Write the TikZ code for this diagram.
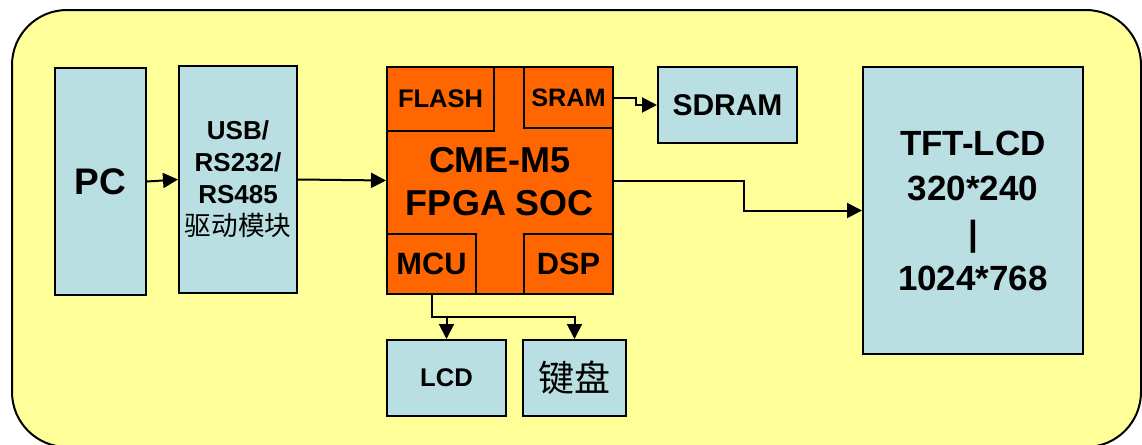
\documentclass[tikz,border=0pt]{standalone}
\usepackage{fontspec}
\setmainfont{Liberation Sans}
\newfontfamily\cjk{Noto Sans CJK SC}
\usetikzlibrary{arrows.meta}
\definecolor{paneyellow}{RGB}{255,255,153}
\definecolor{boxblue}{RGB}{185,223,227}
\definecolor{chiporange}{RGB}{255,102,0}
\begin{document}
\begin{tikzpicture}[x=0.5pt, y=-0.5pt,
    box/.style={draw, line width=1pt, fill=boxblue, inner sep=0pt, align=center, font=\bfseries},
    chip/.style={box, fill=chiporange},
    arr/.style={line width=1pt, -{Triangle[length=7.5pt,width=7.5pt]}}]
    \useasboundingbox (0,0) rectangle (1142,445);
    % Hintergrund
    \begin{scope}
        \clip (0,0) rectangle (1142,445);
        \draw[line width=1pt, fill=paneyellow, rounded corners=27.5pt] (12,10) rectangle (1141,447);
    \end{scope}

    % linke Seite
    \node[box, minimum width=45.5pt, minimum height=113.5pt, font=\bfseries\fontsize{18.5}{20}\selectfont] (pc) at (100.5,181.5) {PC};
    \node[box, minimum width=59pt, minimum height=113.5pt, font=\bfseries\fontsize{13}{16}\selectfont] (usb) at (238,179.5)
        {USB/\\RS232/\\RS485\\{\cjk\mdseries\fontsize{13.3}{16}\selectfont 驱动模块}};

    % FPGA mit Bloecken
    \node[chip, minimum width=113pt, minimum height=113.5pt] (fpga) at (500,180.5) {};
    \node[chip, minimum width=53.5pt, minimum height=32pt, font=\bfseries\fontsize{12.75}{14}\selectfont] (flash) at (440.5,99) {FLASH};
    \node[chip, minimum width=44.5pt, minimum height=30.5pt, font=\bfseries\fontsize{12.6}{14}\selectfont] (sram) at (568.5,97.5) {SRAM};
    \node[chip, minimum width=44.5pt, minimum height=30pt, font=\bfseries\fontsize{15.4}{17}\selectfont] (mcu) at (431.5,264) {MCU};
    \node[chip, minimum width=44.5pt, minimum height=30pt, font=\bfseries\fontsize{15.4}{17}\selectfont] (dsp) at (568.5,264) {DSP};
    \node[align=center, font=\bfseries\fontsize{18}{21.5}\selectfont] (soc) at (500,181.5) {CME-M5\\FPGA SOC};

    % rechte Seite
    \node[box, minimum width=69.5pt, minimum height=38pt, font=\bfseries\fontsize{15}{17}\selectfont] (sdram) at (727.5,105) {SDRAM};
    \node[box, minimum width=110pt, minimum height=143.5pt, font=\bfseries\fontsize{17.5}{22.5}\selectfont] (tft) at (973,210.5)
        {TFT-LCD\\320*240\\|\\1024*768};

    % unten
    \node[box, minimum width=59.5pt, minimum height=38pt, font=\bfseries\fontsize{12.8}{14}\selectfont] (lcd) at (446.5,378) {LCD};
    \node[box, minimum width=51.5pt, minimum height=38pt, font=\cjk\fontsize{18}{20}\selectfont] (kbd) at (574.5,378) {键盘};

    % Verbindungen
    \draw[arr] (pc.east) -- (usb.west);
    \draw[arr] (usb.east) -- (fpga.west);
    \draw[arr] (sram.east) -- ++(22,0) |- (sdram.west);
    \draw[arr] (fpga.east) -- ++(130,0) |- (tft.west);
    \coordinate (bus) at (432,317);
    \draw[arr] (mcu.south) |- (kbd.north |- bus) -- (kbd.north);
    \draw[arr] (lcd.north |- bus) -- (lcd.north);
\end{tikzpicture}
\end{document}
